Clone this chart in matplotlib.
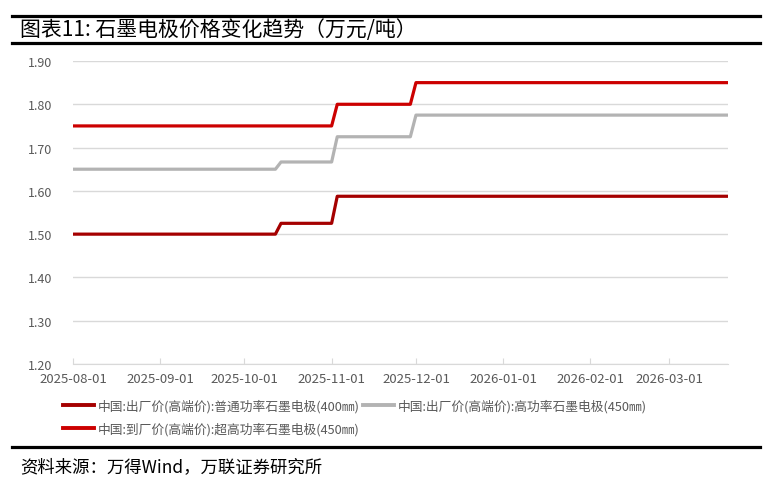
import matplotlib.pyplot as plt
import matplotlib.dates as mdates
from matplotlib.lines import Line2D
import pandas as pd

plt.rcParams['font.family'] = ['Noto Sans CJK SC', 'DejaVu Sans']

# 数据（万元/吨），各价格变化点
dates = pd.to_datetime(['2025-08-01', '2025-10-12', '2025-10-14', '2025-11-01',
                        '2025-11-03', '2025-11-29', '2025-12-01', '2026-03-22'])
normal_400 = [1.50, 1.50, 1.525, 1.525, 1.5875, 1.5875, 1.5875, 1.5875]
high_450 = [1.65, 1.65, 1.6667, 1.6667, 1.725, 1.725, 1.775, 1.775]
ultra_450 = [1.75, 1.75, 1.75, 1.75, 1.80, 1.80, 1.85, 1.85]

labels = ['中国:出厂价(高端价):普通功率石墨电极(400㎜)',
          '中国:出厂价(高端价):高功率石墨电极(450㎜)',
          '中国:到厂价(高端价):超高功率石墨电极(450㎜)']
colors = ['#A50000', '#B3B3B3', '#CC0000']

xticks = pd.to_datetime(['2025-08-01', '2025-09-01', '2025-10-01', '2025-11-01',
                         '2025-12-01', '2026-01-01', '2026-02-01', '2026-03-01'])
yticks = [1.2, 1.3, 1.4, 1.5, 1.6, 1.7, 1.8, 1.9]

fig = plt.figure(figsize=(7.66, 4.81), dpi=100)
ax = fig.add_axes([73 / 766, 1 - 365 / 481, (728 - 73) / 766, (365 - 62) / 481])

for vals, c in zip([normal_400, high_450, ultra_450], colors):
    ax.plot(dates, vals, color=c, lw=2.3, solid_capstyle='butt')

ax.set_xlim(dates[0], dates[-1])
ax.set_ylim(1.2, 1.9)
ax.set_yticks(yticks)
ax.set_yticklabels(['%.2f' % v for v in yticks])
ax.set_xticks(xticks)
ax.xaxis.set_major_formatter(mdates.DateFormatter('%Y-%m-%d'))
ax.grid(axis='y', color='#D9D9D9', lw=1)
ax.set_axisbelow(True)
for s in ['top', 'right', 'left']:
    ax.spines[s].set_visible(False)
ax.spines['bottom'].set_color('#D9D9D9')
ax.tick_params(axis='y', length=0, labelsize=9, colors='#595959', pad=15)
ax.tick_params(axis='x', direction='in', length=4, color='#D9D9D9',
               labelsize=9.5, labelcolor='#595959', pad=6)

handles = [Line2D([], [], color=c, lw=2.8) for c in colors]
order = [0, 2, 1]
fig.legend([handles[i] for i in order], [labels[i] for i in order],
           ncol=2, loc='upper left', bbox_to_anchor=(58 / 766, 1 - 395 / 481),
           frameon=False, fontsize=9.2, labelcolor='#595959',
           handlelength=2.4, handletextpad=0.3, columnspacing=0.3,
           labelspacing=0.7, borderaxespad=0)

# 标题与来源
for y in [17, 44, 448]:
    fig.add_artist(Line2D([12 / 766, 760 / 766], [1 - y / 481] * 2,
                          color='black', lw=2.3))
fig.text(20 / 766, 1 - 30 / 481, '图表11: 石墨电极价格变化趋势（万元/吨）',
         fontsize=15, va='center', ha='left')
fig.text(20 / 766, 1 - 467 / 481, '资料来源：万得Wind，万联证券研究所',
         fontsize=12.5, va='center', ha='left', style='italic')

fig.savefig('out.png', dpi=100)
